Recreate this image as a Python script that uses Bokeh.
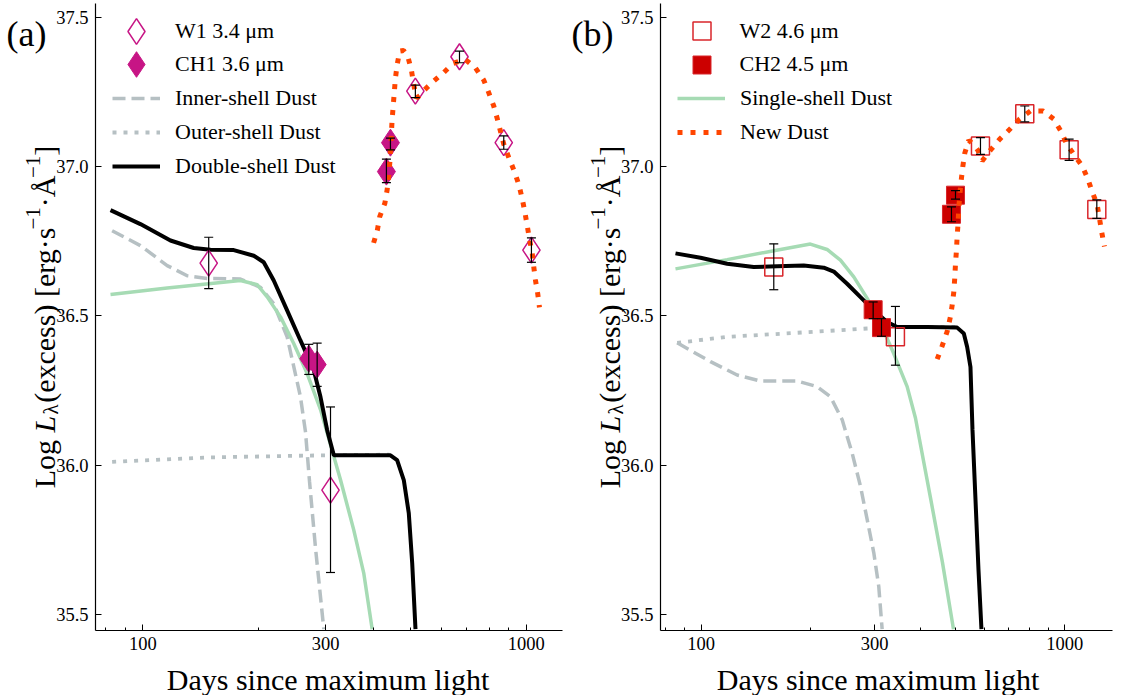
import numpy as np
from bokeh.plotting import figure
from bokeh.models import (ColumnDataSource, Whisker, TeeHead, Legend, LegendItem,
                          Label, FixedTicker, NumeralTickFormatter, Range1d)
from bokeh.layouts import row
from bokeh.embed import file_html
from bokeh.resources import INLINE

# ---------------- ticks ----------------
x_major_ticks = [100, 300, 1000]
x_minor_ticks = [80, 90, 200, 400, 500, 600, 700, 800, 900]
y_ticks = [35.5, 36.0, 36.5, 37.0, 37.5]

# ---------------- panel (a) data ----------------
w1_days = [148.6, 308.8, 514, 670, 874, 1032]
w1_L = [36.677, 35.916, 37.254, 37.369, 37.081, 36.721]
w1_lo = [36.592, 35.640, 37.232, 37.349, 37.059, 36.680]
w1_hi = [36.764, 36.195, 37.274, 37.388, 37.104, 36.762]

ch1_days = [271, 285, 432, 442.6]
ch1_L = [36.357, 36.337, 36.984, 37.081]
ch1_lo = [36.304, 36.264, 36.947, 37.057]
ch1_hi = [36.405, 36.409, 37.026, 37.096]

a_inner_days = [83.2, 98.6, 115.8, 130.6, 147.2, 179.8, 202.8, 219.6, 238.1, 257.8, 265.7, 272.2, 282.2, 296.6]
a_inner_L = [36.786, 36.736, 36.669, 36.635, 36.626, 36.624, 36.596, 36.541, 36.429, 36.229, 36.112, 35.946, 35.722, 35.45]

a_outer_days = [83.2, 150, 300, 440]
a_outer_L = [36.011, 36.026, 36.033, 36.035]

a_double_days = [82.4, 98.6, 118.1, 135.8, 150.2, 172.7, 194.8, 206.8, 219.6, 238.1, 257.8, 279.3, 290.8, 302.7, 315, 442.6, 460.7, 479.5, 494.1, 504.3, 514.4]
a_double_L = [36.855, 36.808, 36.753, 36.728, 36.722, 36.721, 36.702, 36.680, 36.619, 36.518, 36.418, 36.318, 36.228, 36.117, 36.033, 36.033, 36.017, 35.950, 35.839, 35.672, 35.45]

a_single_days = [82.4, 115.8, 179.8, 198.8, 211.1, 228.7, 247.6, 268.4, 290.8, 315, 328, 355, 377, 396.6]
a_single_L = [36.572, 36.594, 36.619, 36.605, 36.564, 36.497, 36.408, 36.307, 36.186, 36.029, 35.950, 35.783, 35.638, 35.45]

a_new_days = [400, 409, 415, 428, 434, 438, 441, 443, 445, 447, 450, 453, 456, 461, 468, 479, 491, 502, 508, 517,
              530, 541, 571, 608, 645, 694, 737, 775, 799, 823, 840, 874, 901, 932, 957, 976, 992, 1006, 1020,
              1037, 1047, 1057, 1072, 1083]
a_new_L = [36.745, 36.787, 36.833, 36.878, 36.924, 36.970, 37.016, 37.063, 37.110, 37.157, 37.204, 37.251, 37.297,
           37.344, 37.388, 37.390, 37.371, 37.324, 37.282, 37.231, 37.240, 37.256, 37.285, 37.315, 37.347, 37.360,
           37.332, 37.291, 37.248, 37.204, 37.163, 37.076, 37.031, 36.984, 36.940, 36.894, 36.849, 36.803, 36.758,
           36.710, 36.663, 36.621, 36.574, 36.529]

# ---------------- panel (b) data ----------------
w2_days = [158.4, 342.2, 586.4, 776.3, 1028, 1225]
w2_L = [36.664, 36.430, 37.070, 37.178, 37.057, 36.857]
w2_lo = [36.588, 36.335, 37.042, 37.151, 37.022, 36.827]
w2_hi = [36.742, 36.532, 37.098, 37.204, 37.093, 36.889]

ch2_days = [297.2, 313.3, 488, 500.6]
ch2_L = [36.521, 36.461, 36.841, 36.905]
ch2_lo = [36.491, 36.432, 36.816, 36.892]
ch2_hi = [36.547, 36.491, 36.866, 36.920]

b_inner_days = [85.9, 106.1, 125.6, 145.6, 183.7, 208.4, 226.8, 244.3, 260.2, 274.3, 286.2, 298.4, 307.9, 314.6]
b_inner_L = [36.410, 36.347, 36.302, 36.282, 36.282, 36.263, 36.229, 36.152, 36.040, 35.929, 35.817, 35.706, 35.594, 35.45]

b_outer_days = [85.9, 117.9, 179.8, 286.2, 346, 500]
b_outer_L = [36.410, 36.430, 36.443, 36.458, 36.463, 36.463]

b_double_days = [85, 99.6, 117.9, 139.5, 161.8, 191.5, 217.4, 231.6, 252, 274.3, 298.4, 324.7, 346, 418.4, 506,
                 527.7, 539, 550.4, 557.5, 568.2, 579, 590]
b_double_L = [36.710, 36.695, 36.675, 36.664, 36.667, 36.669, 36.662, 36.649, 36.608, 36.563, 36.519, 36.480,
              36.463, 36.463, 36.461, 36.441, 36.396, 36.329, 36.118, 35.884, 35.650, 35.45]

b_single_days = [85, 117.9, 158.4, 199.7, 222, 241.6, 262.9, 286.2, 311.3, 338.6, 368.6, 388.5, 427.2, 460.9, 494.3]
b_single_L = [36.658, 36.689, 36.719, 36.741, 36.723, 36.687, 36.631, 36.559, 36.475, 36.374, 36.263, 36.158,
              35.891, 35.674, 35.45]

b_new_days = [445.8, 460.1, 474.9, 484.9, 490.2, 495.2, 498.3, 500.6, 503.7, 505.9, 509.1, 511.0, 514.3, 518.9,
              524.2, 530.9, 544.5, 561, 576.5, 592.8, 624.6, 662.6, 706.1, 750.6, 804.7, 872.2, 932.6, 977.5,
              1010.9, 1058.8, 1116.4, 1156.7, 1189.4, 1227.7, 1245.6, 1264, 1285.7]
b_new_L = [36.355, 36.400, 36.448, 36.498, 36.536, 36.580, 36.628, 36.675, 36.721, 36.767, 36.814, 36.860, 36.905,
           36.953, 37.000, 37.046, 37.089, 37.075, 37.056, 37.020, 37.056, 37.093, 37.126, 37.160, 37.187, 37.187,
           37.160, 37.118, 37.078, 37.042, 37.003, 36.960, 36.917, 36.873, 36.828, 36.780, 36.733]

# ---------------- styles ----------------
SERIF = "Liberation Serif"
MAGENTA = "#c71585"
RED = "#cc0000"
RED_EDGE = "#d9262b"
GREEN = "#a6dbb4"
GREY = "#b6c0c3"
ORANGE = "#ff4500"

H = 695            # canvas height
PANEL_W = 565      # each panel canvas width
Y_AXIS_BOUNDS = (35.447, 37.548)
Y_FULL = (35.2276, 37.5577)   # whole canvas height in data units


def make_fig(x_full, x_bounds):
    p = figure(width=PANEL_W, height=H, x_axis_type="log",
               x_range=Range1d(*x_full), y_range=Range1d(*Y_FULL),
               output_backend="svg", toolbar_location=None,
               min_border_left=0, min_border_right=0,
               min_border_top=0, min_border_bottom=0)
    p.xgrid.visible = False
    p.ygrid.visible = False
    p.outline_line_color = None
    p.background_fill_color = "white"
    p.border_fill_color = "white"
    xa, ya = p.xaxis[0], p.yaxis[0]
    xa.fixed_location = Y_AXIS_BOUNDS[0]
    xa.bounds = x_bounds
    ya.fixed_location = x_bounds[0]
    ya.bounds = Y_AXIS_BOUNDS
    for ax in (xa, ya):
        ax.major_tick_in = 6
        ax.major_tick_out = 0
        ax.minor_tick_in = 3
        ax.minor_tick_out = 0
        ax.axis_line_color = "black"
        ax.axis_line_width = 1.2
        ax.major_tick_line_color = "black"
        ax.minor_tick_line_color = "black"
        ax.major_label_text_font = SERIF
        ax.major_label_text_font_size = "18.5px"
        ax.major_label_text_color = "black"
        ax.major_label_standoff = 7
    xa.ticker = FixedTicker(ticks=x_major_ticks, minor_ticks=x_minor_ticks)
    xa.formatter = NumeralTickFormatter(format="0")
    ya.ticker = FixedTicker(ticks=y_ticks)
    ya.formatter = NumeralTickFormatter(format="0.0")
    ya.minor_tick_line_color = None
    return p


def add_errors(p, days, lo, hi):
    src = ColumnDataSource(dict(x=days, lo=lo, hi=hi))
    w = Whisker(source=src, base="x", upper="hi", lower="lo", level="annotation",
                line_color="black", line_width=1.2,
                upper_head=TeeHead(size=9, line_color="black", line_width=1.2),
                lower_head=TeeHead(size=9, line_color="black", line_width=1.2))
    p.add_layout(w)


def screen_label(p, x, y_top, text, size, **kw):
    """x, y_top: canvas pixel coordinates from the top-left of the panel."""
    p.add_layout(Label(x=x, y=H - y_top, x_units="screen", y_units="screen",
                       text=text, text_font=SERIF, text_font_size=f"{size}px",
                       text_color="black", **kw))


def add_texts(p, panel_text, xlabel_center):
    screen_label(p, 6, 33, panel_text, 36, text_align="left", text_baseline="alphabetic")
    screen_label(p, xlabel_center, 679, "Days since maximum light", 30,
                 text_align="center", text_baseline="alphabetic")
    pieces = [  # text, size, style, raise(px), width(em of its size)
        ("Log ", 30, "normal", 0, 1.861),
        ("L", 30, "italic", 0, 0.60),
        ("λ", 21, "normal", -6, 0.55),
        ("(excess) [erg·s", 30, "normal", 0, 5.775),
        ("−1", 21, "normal", 12, 1.064),
        ("·Å", 30, "normal", 0, 0.972),
        ("−1", 21, "normal", 12, 1.064),
        ("]", 30, "normal", 0, 0.333),
    ]
    total = sum(s * w for _, s, _, _, w in pieces)
    center_y = (3 + 630) / 2
    ybot = center_y + total / 2          # canvas y of text start
    base_x = 44
    for t, s, st, r, w in pieces:
        screen_label(p, base_x - r, ybot, t, s, angle=np.pi / 2, text_font_style=st,
                     text_align="left", text_baseline="alphabetic")
        ybot -= s * w


# glyph box per legend row kind: (box width, box height)
LEG_BOX = {"diamond": (64, 64), "square": (45, 45), "line": (48, 42)}


def add_legend_rows(p, entries):
    marker_center_x = 136
    text_x = 175
    for i, (label, rend, kind) in enumerate(entries):
        center = 30.7 + i * 33.7
        gw, gh = LEG_BOX[kind]
        x0 = marker_center_x - gw / 2
        leg = Legend(items=[LegendItem(label=label, renderers=[rend])],
                     location=(x0, H - (center + gh / 2)), glyph_width=gw, glyph_height=gh,
                     label_height=gh, spacing=0, label_standoff=int(round(text_x - x0 - gw)),
                     padding=0, margin=0,
                     border_line_alpha=0, background_fill_alpha=0,
                     label_text_font=SERIF, label_text_font_size="22px",
                     label_text_color="black")
        p.add_layout(leg)


# ================= panel (a) =================
pa = make_fig((42.56, 1266.3), (75.3, 1245))
r_inner_a = pa.line(a_inner_days, a_inner_L, line_color=GREY, line_width=3.5, line_dash="13 6")
r_outer_a = pa.line(a_outer_days, a_outer_L, line_color=GREY, line_width=3.8, line_dash="4 7")
pa.line(a_single_days, a_single_L, line_color=GREEN, line_width=3.5)
r_double_a = pa.line(a_double_days, a_double_L, line_color="black", line_width=4)
r_w1 = pa.scatter(w1_days, w1_L, marker="diamond", size=26, fill_color=None,
                  line_color=MAGENTA, line_width=1.5)
r_ch1 = pa.scatter(ch1_days, ch1_L, marker="diamond", size=27, fill_color=MAGENTA,
                   line_color=MAGENTA, line_width=1)
pa.line(a_new_days, a_new_L, line_color=ORANGE, line_width=5, line_dash="5 8")
add_errors(pa, w1_days, w1_lo, w1_hi)
add_errors(pa, ch1_days, ch1_lo, ch1_hi)
add_texts(pa, "(a)", 327.5)
add_legend_rows(pa, [
    ("W1 3.4 μm", r_w1, "diamond"),
    ("CH1 3.6 μm", r_ch1, "diamond"),
    ("Inner-shell Dust", r_inner_a, "line"),
    ("Outer-shell Dust", r_outer_a, "line"),
    ("Double-shell Dust", r_double_a, "line"),
])

# ================= panel (b) =================
pb = make_fig((42.36, 1516.3), (77.3, 1349))
pb.line(b_inner_days, b_inner_L, line_color=GREY, line_width=3.5, line_dash="13 6")
pb.line(b_outer_days, b_outer_L, line_color=GREY, line_width=3.8, line_dash="4 7")
r_single_b = pb.line(b_single_days, b_single_L, line_color=GREEN, line_width=3.5)
pb.line(b_double_days, b_double_L, line_color="black", line_width=4)
r_w2 = pb.scatter(w2_days, w2_L, marker="square", size=18, fill_color=None,
                  line_color=RED_EDGE, line_width=1.5)
r_ch2 = pb.scatter(ch2_days, ch2_L, marker="square", size=18, fill_color=RED,
                   line_color=RED_EDGE, line_width=1)
r_new_b = pb.line(b_new_days, b_new_L, line_color=ORANGE, line_width=5, line_dash="5 8")
add_errors(pb, w2_days, w2_lo, w2_hi)
add_errors(pb, ch2_days, ch2_lo, ch2_hi)
add_texts(pb, "(b)", 312.5)
add_legend_rows(pb, [
    ("W2 4.6 μm", r_w2, "square"),
    ("CH2 4.5 μm", r_ch2, "square"),
    ("Single-shell Dust", r_single_b, "line"),
    ("New Dust", r_new_b, "line"),
])

layout = row(pa, pb, spacing=0)
open("out.html", "w").write(file_html(layout, INLINE))
